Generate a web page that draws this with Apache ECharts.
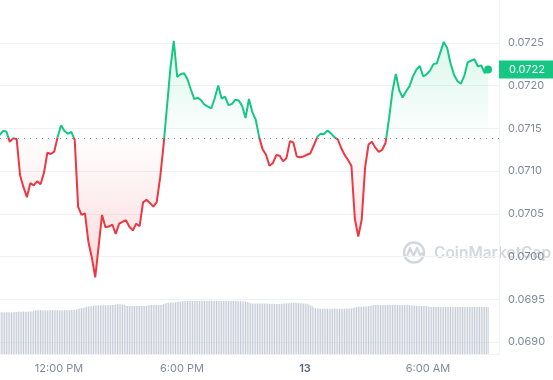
<!DOCTYPE html>
<html><head><meta charset="utf-8">
<script src="https://cdn.jsdelivr.net/npm/echarts@6/dist/echarts.min.js"></script>
<style>html,body{margin:0;padding:0;background:#fff}#c{width:553px;height:380px}</style>
</head><body><div id="c"></div>
<script>
// time in minutes after midnight of day 12; price sampled every 10 minutes
const priceStart = 546;
const priceStep = 10;
const prices = [
0.071421,0.071467,0.071461,0.071340,0.071384,0.071375,0.070951,0.070811,0.070694,0.070858,
0.070831,0.070879,0.070845,0.070979,0.071214,0.071199,0.071226,0.071398,0.071536,0.071469,
0.071435,0.071458,0.071364,0.070580,0.070486,0.070504,0.070173,0.069989,0.069756,0.070120,
0.070486,0.070343,0.070350,0.070374,0.070264,0.070384,0.070404,0.070424,0.070348,0.070305,
0.070383,0.070356,0.070633,0.070663,0.070627,0.070584,0.070636,0.070919,0.071299,0.071749,
0.072199,0.072521,0.072101,0.072131,0.072143,0.072073,0.071953,0.071840,0.071858,0.071827,
0.071775,0.071752,0.071734,0.071854,0.072001,0.071847,0.071869,0.071770,0.071784,0.071833,
0.071824,0.071762,0.071620,0.071842,0.071688,0.071597,0.071396,0.071253,0.071191,0.071061,
0.071091,0.071186,0.071178,0.071113,0.071153,0.071349,0.071334,0.071168,0.071160,0.071170,
0.071190,0.071208,0.071301,0.071399,0.071437,0.071432,0.071473,0.071440,0.071396,0.071369,
0.071269,0.071188,0.071129,0.071059,0.070439,0.070232,0.070429,0.071043,0.071309,0.071342,
0.071273,0.071224,0.071248,0.071331,0.071612,0.071932,0.072135,0.071942,0.071860,0.071932,
0.071993,0.072107,0.072185,0.072228,0.072108,0.072131,0.072174,0.072250,0.072260,0.072384,
0.072510,0.072441,0.072261,0.072129,0.072052,0.072020,0.072109,0.072269,0.072290,0.072307,
0.072225,0.072234,0.072146,0.072186
];
const openPrice = 0.071386;
// volume sampled every 5 minutes, ending with the last price point
const volumeStep = 5;
const volumes = [
41.5,41.6,41.7,41.7,41.6,41.7,41.8,41.7,41.7,41.8,41.9,42.0,
42.2,42.3,42.3,42.4,42.3,42.3,42.4,42.5,42.6,
43.4,43.6,43.7,43.7,43.7,43.8,43.7,43.7,43.6,43.7,43.8,43.8,43.7,43.7,43.7,43.6,43.7,43.8,43.8,43.9,43.8,43.8,43.9,44.0,44.2,44.5,
45.2,45.6,45.8,46.1,
46.8,47.2,47.4,47.6,47.9,
48.3,48.5,48.6,48.7,48.7,48.8,48.7,48.7,48.8,48.9,48.8,48.9,49.1,
49.5,49.7,49.8,49.8,49.6,49.2,
48.3,48.1,48.0,48.0,47.9,48.0,48.0,48.1,48.0,47.9,48.0,48.1,48.2,48.4,
48.8,48.9,49.0,49.0,49.1,49.0,49.1,49.3,49.7,
50.5,51.0,51.3,51.4,51.4,51.5,51.6,51.9,52.3,
52.6,52.8,53.0,53.0,53.1,53.0,53.0,53.1,53.2,53.1,53.0,53.1,53.2,53.2,53.1,53.0,53.1,53.2,53.2,53.1,
53.1,53.0,53.0,53.1,53.1,53.0,53.0,52.9,53.0,53.0,52.9,52.9,53.0,52.9,52.8,52.8,52.7,52.6,52.4,52.0,51.4,
50.8,50.6,50.5,50.5,50.4,50.5,50.5,50.4,50.5,50.5,50.4,50.3,50.3,50.2,50.1,50.0,50.0,50.1,50.2,
50.4,50.6,50.7,50.8,50.9,51.1,51.3,51.2,51.0,50.8,50.7,50.7,50.6,50.5,50.3,49.5,
48.6,47.8,
46.5,45.8,45.5,45.4,45.3,45.3,45.2,45.3,45.3,45.2,45.3,45.3,45.4,45.3,45.3,45.2,45.3,45.3,45.3,45.4,45.3,45.4,45.6,46.0,
46.6,47.0,47.2,47.3,47.3,47.4,47.4,47.5,47.7,48.1,
48.5,48.8,49.0,49.1,49.0,49.0,49.1,49.1,49.0,49.0,49.1,49.0,49.0,48.9,49.0,49.0,49.0,48.9,49.0,49.0,48.9,48.9,48.8,48.8,48.6,48.4,
48.2,48.1,48.0,48.0,48.0,47.9,47.7,
47.4,47.2,47.1,47.0,47.0,47.0,47.1,47.0,47.0,47.0,46.9,47.0,47.0,47.0,47.1,47.0,47.0,47.0,46.9,47.0,47.0,47.0,47.0,47.1,47.0,47.0,47.0,46.9,47.0,47.0,47.0,47.0,47.1,47.0,47.0,47.0
];
const xTickValues = [720, 1080, 1440, 1800];
const xTickLabels = ['12:00 PM', '6:00 PM', '13', '6:00 AM'];
const boldTicks = ['13'];

const GREEN = '#16c784', RED = '#ea3943', GRAY = '#808a9d', GRID = '#eff2f5';
const priceData = prices.map((v, i) => [priceStart + priceStep * i, v]);
const lastT = priceData[priceData.length - 1][0];
const lastPrice = prices[prices.length - 1];
const volData = volumes.map((v, j) => [lastT - volumeStep * (volumes.length - 1 - j), v]);

const chart = echarts.init(document.getElementById('c'));
const X_MIN = 547.3, X_MAX = 2007.9;
chart.setOption({
  animation: false,
  backgroundColor: '#fff',
  textStyle: { fontFamily: 'Inter' },
  grid: [
    { left: 0, right: 54, top: 0, bottom: 38 },
    { left: 0, right: 54, top: 294, bottom: 26 }
  ],
  xAxis: [
    { gridIndex: 0, type: 'value', min: X_MIN, max: X_MAX, show: false },
    { gridIndex: 1, type: 'value', min: X_MIN, max: X_MAX,
      axisLine: { show: true, lineStyle: { color: GRID } },
      axisTick: { show: false }, splitLine: { show: false },
      axisLabel: {
        customValues: xTickValues, color: GRAY, fontSize: 11, fontFamily: 'Inter', margin: 9,
        formatter: v => {
          const k = xTickValues.indexOf(Math.round(v));
          const s = k >= 0 ? xTickLabels[k] : '';
          return boldTicks.includes(s) ? '{b|' + s + '}' : s;
        },
        rich: { b: { fontWeight: 600, color: '#58667e', fontSize: 11, fontFamily: 'Inter' } }
      } }
  ],
  yAxis: [
    { gridIndex: 0, type: 'value', position: 'right', min: 0.0690, max: 0.0730, interval: 0.0005,
      axisLine: { show: true, lineStyle: { color: GRID } },
      axisTick: { show: false },
      splitLine: { show: true, showMaxLine: false, lineStyle: { color: GRID } },
      axisLabel: { showMaxLabel: false, color: GRAY, fontSize: 11, fontFamily: 'Inter', margin: 9,
        formatter: v => v.toFixed(4) } },
    { gridIndex: 1, type: 'value', position: 'right', min: 0, max: 60,
      axisLine: { show: true, lineStyle: { color: GRID } },
      axisTick: { show: false }, axisLabel: { show: false }, splitLine: { show: false } }
  ],
  graphic: [
    { type: 'circle', z: -1, shape: { cx: 414, cy: 252.5, r: 10 }, style: { fill: 'none', stroke: '#d3d7de', lineWidth: 2.5 } },
    { type: 'polyline', z: -1, shape: { points: [[407, 256], [410, 248], [413.5, 256], [417, 248], [420, 255], [423, 253]] },
      style: { fill: 'none', stroke: '#d3d7de', lineWidth: 2.2, lineJoin: 'round' } },
    { type: 'text', z: -1, x: 434, y: 253.5, style: { text: 'CoinMarketCap', fill: '#d3d7de', font: '600 15.5px Inter', verticalAlign: 'middle' } }
  ],
  series: [
    { type: 'bar', xAxisIndex: 1, yAxisIndex: 1, data: volData, barWidth: 1, silent: true,
      itemStyle: { color: '#c3cad6' }, z: 1 },
    { type: 'line', xAxisIndex: 0, yAxisIndex: 0, data: priceData, showSymbol: false, symbol: 'none',
      lineStyle: { width: 2, color: GREEN }, areaStyle: { origin: openPrice, color: 'rgba(22,199,132,0.15)' },
      z: 3, silent: true,
      markLine: { symbol: 'none', silent: true, animation: false, precision: 8, data: [
        { yAxis: openPrice, lineStyle: { type: [1, 5], color: '#8a919e', width: 1 }, label: { show: false } },
        { yAxis: lastPrice, lineStyle: { color: 'rgba(0,0,0,0)', width: 0 },
          label: { show: true, position: 'end', distance: 0, formatter: lastPrice.toFixed(4),
            backgroundColor: GREEN, color: '#fff', fontSize: 11, fontFamily: 'Inter',
            lineHeight: 12, padding: [3, 10, 3, 10] } }
      ] },
      markPoint: { symbol: 'circle', symbolSize: 8, silent: true, animation: false,
        itemStyle: { color: GREEN }, label: { show: false },
        data: [{ coord: [lastT, lastPrice] }] }
    }
  ]
});

const H = 380;
const basePx = chart.convertToPixel({ yAxisIndex: 0 }, openPrice);
const b = Math.min(Math.max(basePx / H, 0), 1);
const lowPx = chart.convertToPixel({ yAxisIndex: 0 }, 0.0698) / H;
chart.setOption({
  series: [{}, {
    lineStyle: { color: { type: 'linear', x: 0, y: 0, x2: 0, y2: H, global: true, colorStops: [
      { offset: 0, color: GREEN }, { offset: b, color: GREEN }, { offset: b, color: RED }, { offset: 1, color: RED } ] } },
    areaStyle: { origin: openPrice, color: { type: 'linear', x: 0, y: 0, x2: 0, y2: H, global: true, colorStops: [
      { offset: 0, color: 'rgba(22,199,132,0.26)' }, { offset: 0.11, color: 'rgba(22,199,132,0.22)' },
      { offset: b, color: 'rgba(22,199,132,0.01)' }, { offset: b, color: 'rgba(234,57,67,0.01)' },
      { offset: lowPx, color: 'rgba(234,57,67,0.26)' }, { offset: 1, color: 'rgba(234,57,67,0.26)' } ] } }
  }]
});
</script></body></html>
